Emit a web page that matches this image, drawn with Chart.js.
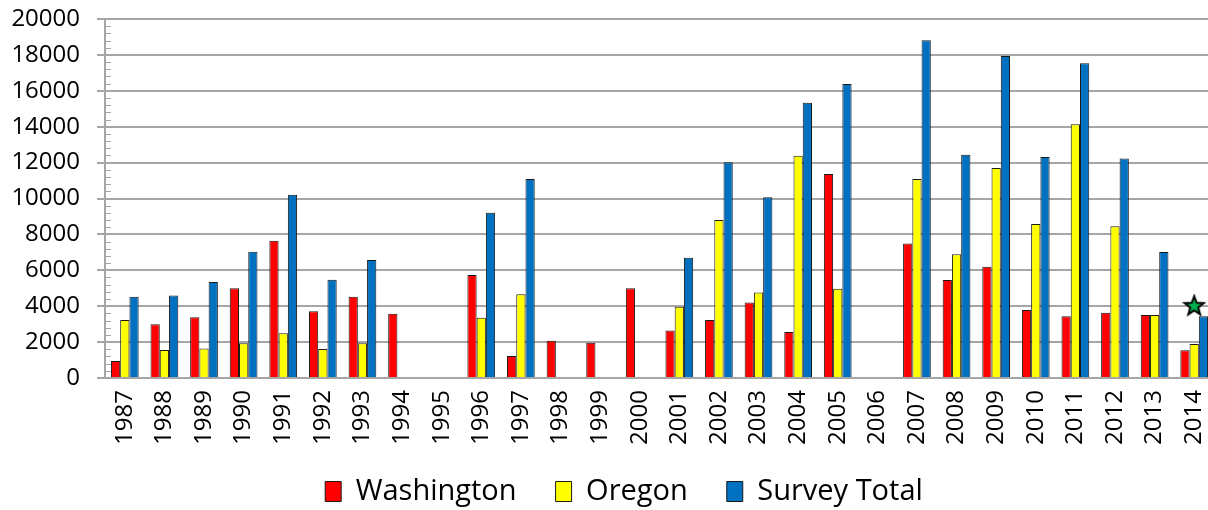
<!DOCTYPE html>
<html>
<head>
<meta charset="utf-8">
<script src="https://cdn.jsdelivr.net/npm/chart.js@4/dist/chart.umd.min.js"></script>
<style>
  html, body { margin: 0; padding: 0; background: #fff; overflow: hidden; }
  #wrap { width: 1214px; height: 510px; }
</style>
</head>
<body>
<div id="wrap"><canvas id="chart"></canvas></div>
<script>
const years = ["1987", "1988", "1989", "1990", "1991", "1992", "1993", "1994", "1995", "1996",
  "1997", "1998", "1999", "2000", "2001", "2002", "2003", "2004", "2005", "2006",
  "2007", "2008", "2009", "2010", "2011", "2012", "2013", "2014"];

const washington = [950, 3000, 3380, 5000, 7650, 3720, 4530, 3580, null, 5740,
  1230, 2080, 1970, 5000, 2640, 3230, 4200, 2560, 11360, null,
  7500, 5460, 6200, 3790, 3440, 3640, 3510, 1540];

const oregon = [3230, 1560, 1650, 1930, 2490, 1620, 1930, null, null, 3360,
  4660, null, null, null, 3970, 8800, 4770, 12380, 4970, null,
  11090, 6890, 11700, 8580, 14130, 8450, 3510, 1890];

const surveyTotal = [4530, 4600, 5350, 7040, 10210, 5480, 6570, null, null, 9210,
  11090, null, null, null, 6700, 12020, 10070, 15340, 16380, null,
  18810, 12440, 17940, 12310, 17530, 12230, 7020, 3440];

// green star marker over the last year
const starYear = "2014";
const starValue = 4000;

const yTicks = { min: 0, max: 20000, step: 2000, minorStep: 400 };

function makeStar(r) {
  const c = document.createElement("canvas");
  c.width = c.height = 2 * r + 4;
  const g = c.getContext("2d");
  const cx = r + 2, cy = r + 2;
  g.beginPath();
  for (let i = 0; i < 10; i++) {
    const rad = i % 2 === 0 ? r : r * 0.42;
    const a = -Math.PI / 2 + i * Math.PI / 5;
    const px = cx + rad * Math.cos(a), py = cy + rad * Math.sin(a);
    i === 0 ? g.moveTo(px, py) : g.lineTo(px, py);
  }
  g.closePath();
  g.fillStyle = "#00b050";
  g.fill();
  g.lineWidth = 2;
  g.strokeStyle = "#000";
  g.stroke();
  return c;
}

const minorTicks = {
  id: "minorTicks",
  afterDraw(chart) {
    const y = chart.scales.y;
    const ctx = chart.ctx;
    const x0 = chart.chartArea.left;
    ctx.save();
    ctx.strokeStyle = "#a6a6a6";
    ctx.lineWidth = 1;
    for (let v = yTicks.min; v <= yTicks.max; v += yTicks.minorStep) {
      if (v % yTicks.step === 0) continue;
      const py = Math.round(y.getPixelForValue(v)) + 0.5;
      ctx.beginPath();
      ctx.moveTo(x0, py);
      ctx.lineTo(x0 + 6, py);
      ctx.stroke();
    }
    ctx.restore();
  }
};

// nudge the legend so it sits under the middle of the picture
const legendShift = {
  id: "legendShift",
  afterLayout(chart) {
    chart.legend.left += 34;
    chart.legend.top -= 12;
    chart.legend.bottom -= 12;
  }
};

const font = "'Open Sans', 'Noto Sans', sans-serif";

new Chart(document.getElementById("chart"), {
  type: "bar",
  data: {
    labels: years,
    datasets: [
      {
        type: "line",
        label: "star",
        data: years.map((y) => (y === starYear ? starValue : null)),
        showLine: false,
        pointStyle: makeStar(10),
        pointRadius: 10,
        order: -1,
      },
      {
        label: "Washington",
        data: washington,
        backgroundColor: "#ff0000",
        borderColor: "#1a1a1a",
        borderWidth: 1,
        borderSkipped: "bottom",
      },
      {
        label: "Oregon",
        data: oregon,
        backgroundColor: "#ffff00",
        borderColor: "#1a1a1a",
        borderWidth: 1,
        borderSkipped: "bottom",
      },
      {
        label: "Survey Total",
        data: surveyTotal,
        backgroundColor: "#0070c0",
        borderColor: "#1a1a1a",
        borderWidth: 1,
        borderSkipped: "bottom",
      },
    ],
  },
  options: {
    responsive: true,
    maintainAspectRatio: false,
    animation: false,
    categoryPercentage: 0.7,
    barPercentage: 1.0,
    layout: { autoPadding: false, padding: { left: 0, right: 0, top: 19, bottom: -18 } },
    plugins: {
      tooltip: { enabled: false },
      legend: {
        position: "bottom",
        labels: {
          filter: (item) => item.text !== "star",
          boxWidth: 16,
          boxHeight: 20,
          padding: 39,
          color: "#000",
          font: { family: font, size: 29 },
        },
      },
    },
    scales: {
      x: {
        grid: { display: false, drawTicks: false },
        border: { display: true, color: "#a6a6a6", width: 2 },
        ticks: {
          color: "#000",
          font: { family: font, size: 24 },
          minRotation: 90,
          maxRotation: 90,
          padding: 12,
          autoSkip: false,
        },
        afterFit(scale) {
          scale.height = 72;
          scale.paddingLeft = 0;
          scale.paddingRight = 0;
        },
      },
      y: {
        min: yTicks.min,
        max: yTicks.max,
        grid: { color: "#a6a6a6", lineWidth: 2, tickLength: 8 },
        border: { display: true, color: "#a6a6a6", width: 2 },
        ticks: {
          stepSize: yTicks.step,
          color: "#000",
          padding: 17,
          font: { family: font, size: 24 },
          callback: (v) => String(v),
        },
        afterFit(scale) {
          scale.width = 105;
          scale.paddingTop = 0;
          scale.paddingBottom = 0;
        },
      },
    },
  },
  plugins: [minorTicks, legendShift],
});
</script>
</body>
</html>
